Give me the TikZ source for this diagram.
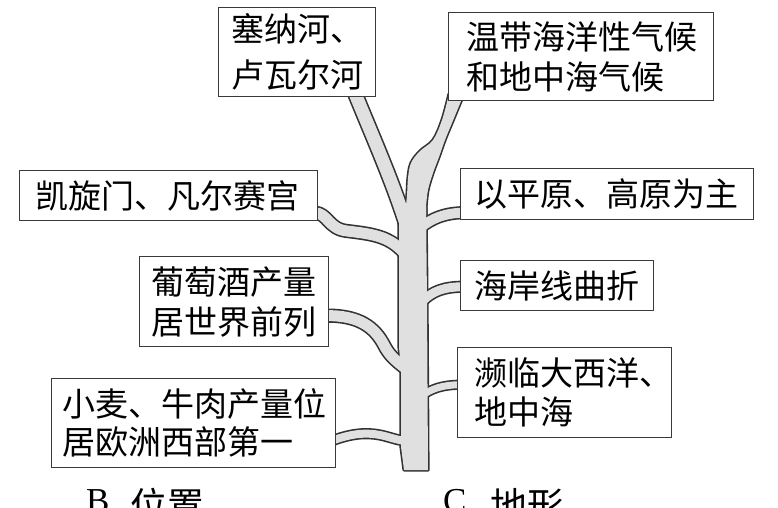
\documentclass[tikz,border=0pt]{standalone}
\usepackage{fontspec}
\newfontfamily\cjk{Noto Sans CJK SC}
\newfontfamily\latin{Liberation Serif}
\usetikzlibrary{calc}
\pgfdeclarelayer{background}
\pgfsetlayers{background,main}
\definecolor{boxc}{HTML}{3A3A3A}
\definecolor{barkline}{HTML}{333333}
\definecolor{barkfill}{HTML}{E0E0E0}
\tikzset{
  box/.style={draw=boxc, line width=1.3pt, fill=white, anchor=north west, align=left,
    inner ysep=0pt, font={\cjk\fontsize{33}{40}\selectfont}},
  lab/.style={inner sep=0pt, anchor=base west},
  barkout/.style={draw=barkline, line cap=butt, line join=round},
  barkin/.style={draw=barkfill, line cap=butt, line join=round},
}
\begin{document}
\begin{tikzpicture}[x=1pt,y=-1pt]
\useasboundingbox (0,0) rectangle (778,507);
% boxes
\node[box, minimum width=157pt, minimum height=89pt, text width=131pt, inner xsep=13pt,
  font={\cjk\fontsize{33}{46}\selectfont}] (seine) at (218,7) {塞纳河、\\卢瓦尔河};
\node[box, minimum width=265pt, minimum height=88pt, text width=229pt, inner xsep=18pt] (climate) at (448,12) {温带海洋性气候\\和地中海气候};
\node[box, minimum width=293pt, minimum height=51pt, text width=265pt, inner xsep=14pt] (plain) at (460,168) {以平原、高原为主};
\node[box, minimum width=298pt, minimum height=50pt, text width=266pt, inner xsep=16pt] (arc) at (19,170) {凯旋门、凡尔赛宫};
\node[box, minimum width=189pt, minimum height=90pt, text width=165pt, inner xsep=12pt] (wine) at (139,256) {葡萄酒产量\\居世界前列};
\node[box, minimum width=193pt, minimum height=50pt, text width=165pt, inner xsep=14pt] (coast) at (460,260) {海岸线曲折};
\node[box, minimum width=284pt, minimum height=89pt, text width=262pt, inner xsep=11pt,
  font={\cjk\fontsize{33}{38}\selectfont}] (wheat) at (51,378) {小麦、牛肉产量位\\居欧洲西部第一};
\node[box, minimum width=214pt, minimum height=90pt, text width=180pt, inner xsep=17pt,
  font={\cjk\fontsize{33}{39}\selectfont}] (sea) at (457,347) {濒临大西洋、\\地中海};
% bottom labels
\node[lab, font={\latin\fontsize{35}{40}\selectfont}] (labB) at (86,512) {B.};
\node[lab, font={\cjk\fontsize{37}{40}\selectfont}] (labPos) at (130,519) {位置};
\node[lab, font={\latin\fontsize{35}{40}\selectfont}] (labC) at (443,512) {C.};
\node[lab, font={\cjk\fontsize{37}{40}\selectfont}] (labTer) at (490,519) {地形};
% junction points on the trunk
\coordinate (jTop) at (406,224);
\coordinate (jArc) at (405,254);
\coordinate (jPlain) at (420,228);
\coordinate (jCoast) at (420,304);
\coordinate (jWine) at (405,368);
\coordinate (jSea) at (420,397);
\coordinate (jWheat) at (406,441);
\begin{pgfonlayer}{background}
\def\trunk{(399,205) -- (399,347) -- (401,370) -- (401,447) -- (404,470) -- (428,470) -- (427,300) -- (426,207) -- cycle}
\def\upright{plot[smooth, tension=0.6] coordinates {(449,94) (442,120) (433,140) (420,151) (411,163) (408,178) (407,195) (405,215)} -- (426,215) -- plot[smooth, tension=0.6] coordinates {(426,207) (428,190) (433,173) (439,157) (445,140) (452,123) (464,94)} -- cycle}
\def\branches#1{%
  \draw[#1=13] ($(seine.south west)+(137,-4)$) .. controls (372,135) and (392,180) .. (jTop);
  \draw[#1=11] ($(arc.east)+(-4,17)$) .. controls (328,213) and (328,229) .. (347,231) .. controls (372,234) and (390,236) .. (jArc);
  \draw[#1=10] ($(plain.west)+(4,18.5)$) .. controls (445,213) and (432,218) .. (jPlain);
  \draw[#1=11] ($(wine.east)+(-4,14)$) .. controls (360,315) and (375,328) .. (384,345) .. controls (389,355) and (395,360) .. (jWine);
  \draw[#1=9] ($(coast.west)+(4,1)$) .. controls (445,287) and (432,290) .. (jCoast);
  \draw[#1=7] ($(sea.west)+(4,-8)$) .. controls (443,385) and (432,388) .. (jSea);
  \draw[#1=8] ($(wheat.east)+(-4,17.5)$) .. controls (350,434) and (365,432) .. (380,435) .. controls (390,437) and (396,440) .. (jWheat);
}
% outline pass
\tikzset{wout/.style={barkout, line width=#1+3.2pt}, win/.style={barkin, line width=#1}}
\draw[barkout, line width=3.2pt] \trunk;
\draw[barkout, line width=3.2pt] \upright;
\branches{wout}
% fill pass
\fill[barkfill] \trunk;
\fill[barkfill] \upright;
\branches{win}
\end{pgfonlayer}
\end{tikzpicture}
\end{document}
